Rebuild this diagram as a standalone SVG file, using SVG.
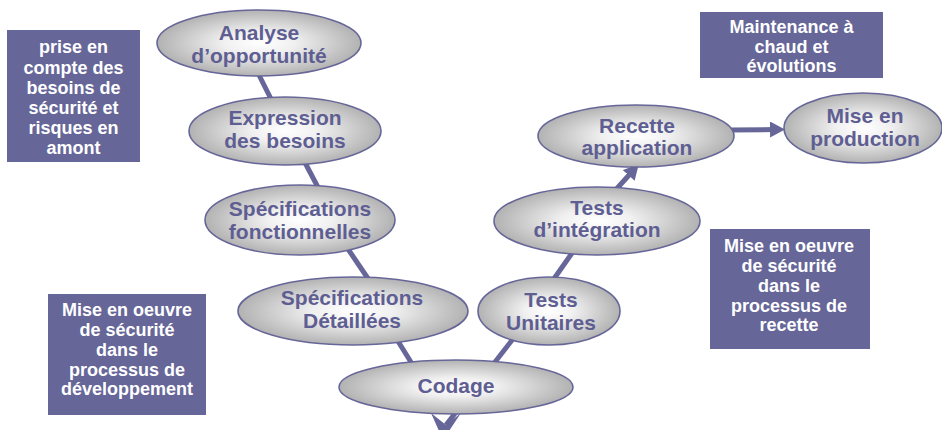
<svg xmlns="http://www.w3.org/2000/svg" width="942" height="430" viewBox="0 0 942 430">
<style>
.box{fill:#666699;}
.bt{font-family:"Liberation Sans",Arial,sans-serif;font-weight:bold;font-size:18px;fill:#ffffff;text-anchor:middle;}
.el{fill:url(#g);stroke:#666699;stroke-width:1.6;}
.et{font-family:"Liberation Sans",Arial,sans-serif;font-weight:bold;font-size:21px;fill:#5e5e92;text-anchor:middle;}
.cn{stroke:#666699;stroke-width:5;fill:none;}
</style>
<defs>
<radialGradient id="g" cx="0.5" cy="0.5" r="0.5">
<stop offset="0" stop-color="#ffffff"/>
<stop offset="0.35" stop-color="#f0f0f0"/>
<stop offset="1" stop-color="#b2b2b2"/>
</radialGradient>
<marker id="ah" markerUnits="userSpaceOnUse" markerWidth="16" markerHeight="16" refX="6" refY="8" orient="auto">
<path d="M0,0 L15,8 L0,16 z" fill="#666699"/>
</marker>
</defs>
<g id="connectors">
<line class="cn" x1="255" y1="67" x2="275" y2="107"/>
<line class="cn" x1="301" y1="155" x2="322" y2="195"/>
<line class="cn" x1="348" y1="249" x2="371" y2="283"/>
<line class="cn" x1="396" y1="338" x2="414" y2="367"/>
<line class="cn" x1="551" y1="283" x2="577" y2="246"/>
<line class="cn" x1="612" y1="194" x2="632.7" y2="171" marker-end="url(#ah)"/>
<line class="cn" x1="730" y1="130" x2="776" y2="129.5" marker-end="url(#ah)"/>
<line class="cn" x1="516" y1="335" x2="446" y2="425"/>
<polygon points="443,440 431,413 446,425 461,413" fill="#666699"/>
</g>
<g id="box-besoins">
<rect class="box" x="7" y="30" width="133" height="132"/>
<text class="bt" x="73.5" y="53">prise en</text>
<text class="bt" x="73.5" y="73.5">compte des</text>
<text class="bt" x="73.5" y="94">besoins de</text>
<text class="bt" x="73.5" y="114">sécurité et</text>
<text class="bt" x="73.5" y="134">risques en</text>
<text class="bt" x="73.5" y="154">amont</text>
</g>
<g id="box-dev">
<rect class="box" x="48" y="294" width="158" height="121"/>
<text class="bt" x="127" y="316">Mise en oeuvre</text>
<text class="bt" x="127" y="336">de sécurité</text>
<text class="bt" x="127" y="356">dans le</text>
<text class="bt" x="127" y="375.5">processus de</text>
<text class="bt" x="127" y="395">développement</text>
</g>
<g id="box-recette">
<rect class="box" x="710" y="229" width="160" height="120"/>
<text class="bt" x="789" y="252">Mise en oeuvre</text>
<text class="bt" x="789" y="272">de sécurité</text>
<text class="bt" x="789" y="292">dans le</text>
<text class="bt" x="789" y="311.5">processus de</text>
<text class="bt" x="789" y="331">recette</text>
</g>
<g id="box-maintenance">
<rect class="box" x="700" y="12" width="183" height="66"/>
<text class="bt" x="791.5" y="33">Maintenance à</text>
<text class="bt" x="791.5" y="52.5">chaud et</text>
<text class="bt" x="791.5" y="72">évolutions</text>
</g>
<g id="analyse">
<ellipse class="el" cx="259" cy="43" rx="102" ry="33"/>
<text class="et" x="259" y="40">Analyse</text>
<text class="et" x="259" y="63">d’opportunité</text>
</g>
<g id="expression">
<ellipse class="el" cx="285" cy="131" rx="96" ry="34"/>
<text class="et" x="285" y="125">Expression</text>
<text class="et" x="285" y="148">des besoins</text>
</g>
<g id="spec-fonct">
<ellipse class="el" cx="300" cy="220" rx="95" ry="35"/>
<text class="et" x="300" y="216">Spécifications</text>
<text class="et" x="300" y="239">fonctionnelles</text>
</g>
<g id="spec-det">
<ellipse class="el" cx="353" cy="311" rx="115" ry="34"/>
<text class="et" x="352" y="305">Spécifications</text>
<text class="et" x="352" y="328">Détaillées</text>
</g>
<g id="codage">
<ellipse class="el" cx="456" cy="387" rx="117" ry="27"/>
<text class="et" x="456" y="393">Codage</text>
</g>
<g id="tests-unitaires">
<ellipse class="el" cx="549" cy="311" rx="71" ry="34"/>
<text class="et" x="551" y="307">Tests</text>
<text class="et" x="551" y="330">Unitaires</text>
</g>
<g id="tests-integration">
<ellipse class="el" cx="597" cy="221" rx="103" ry="34"/>
<text class="et" x="597" y="215">Tests</text>
<text class="et" x="597" y="237">d’intégration</text>
</g>
<g id="recette">
<ellipse class="el" cx="636" cy="136" rx="98" ry="31"/>
<text class="et" x="637" y="133">Recette</text>
<text class="et" x="637" y="155">application</text>
</g>
<g id="production">
<ellipse class="el" cx="863" cy="128" rx="79" ry="35"/>
<text class="et" x="865" y="123">Mise en</text>
<text class="et" x="865" y="146">production</text>
</g>
</svg>
